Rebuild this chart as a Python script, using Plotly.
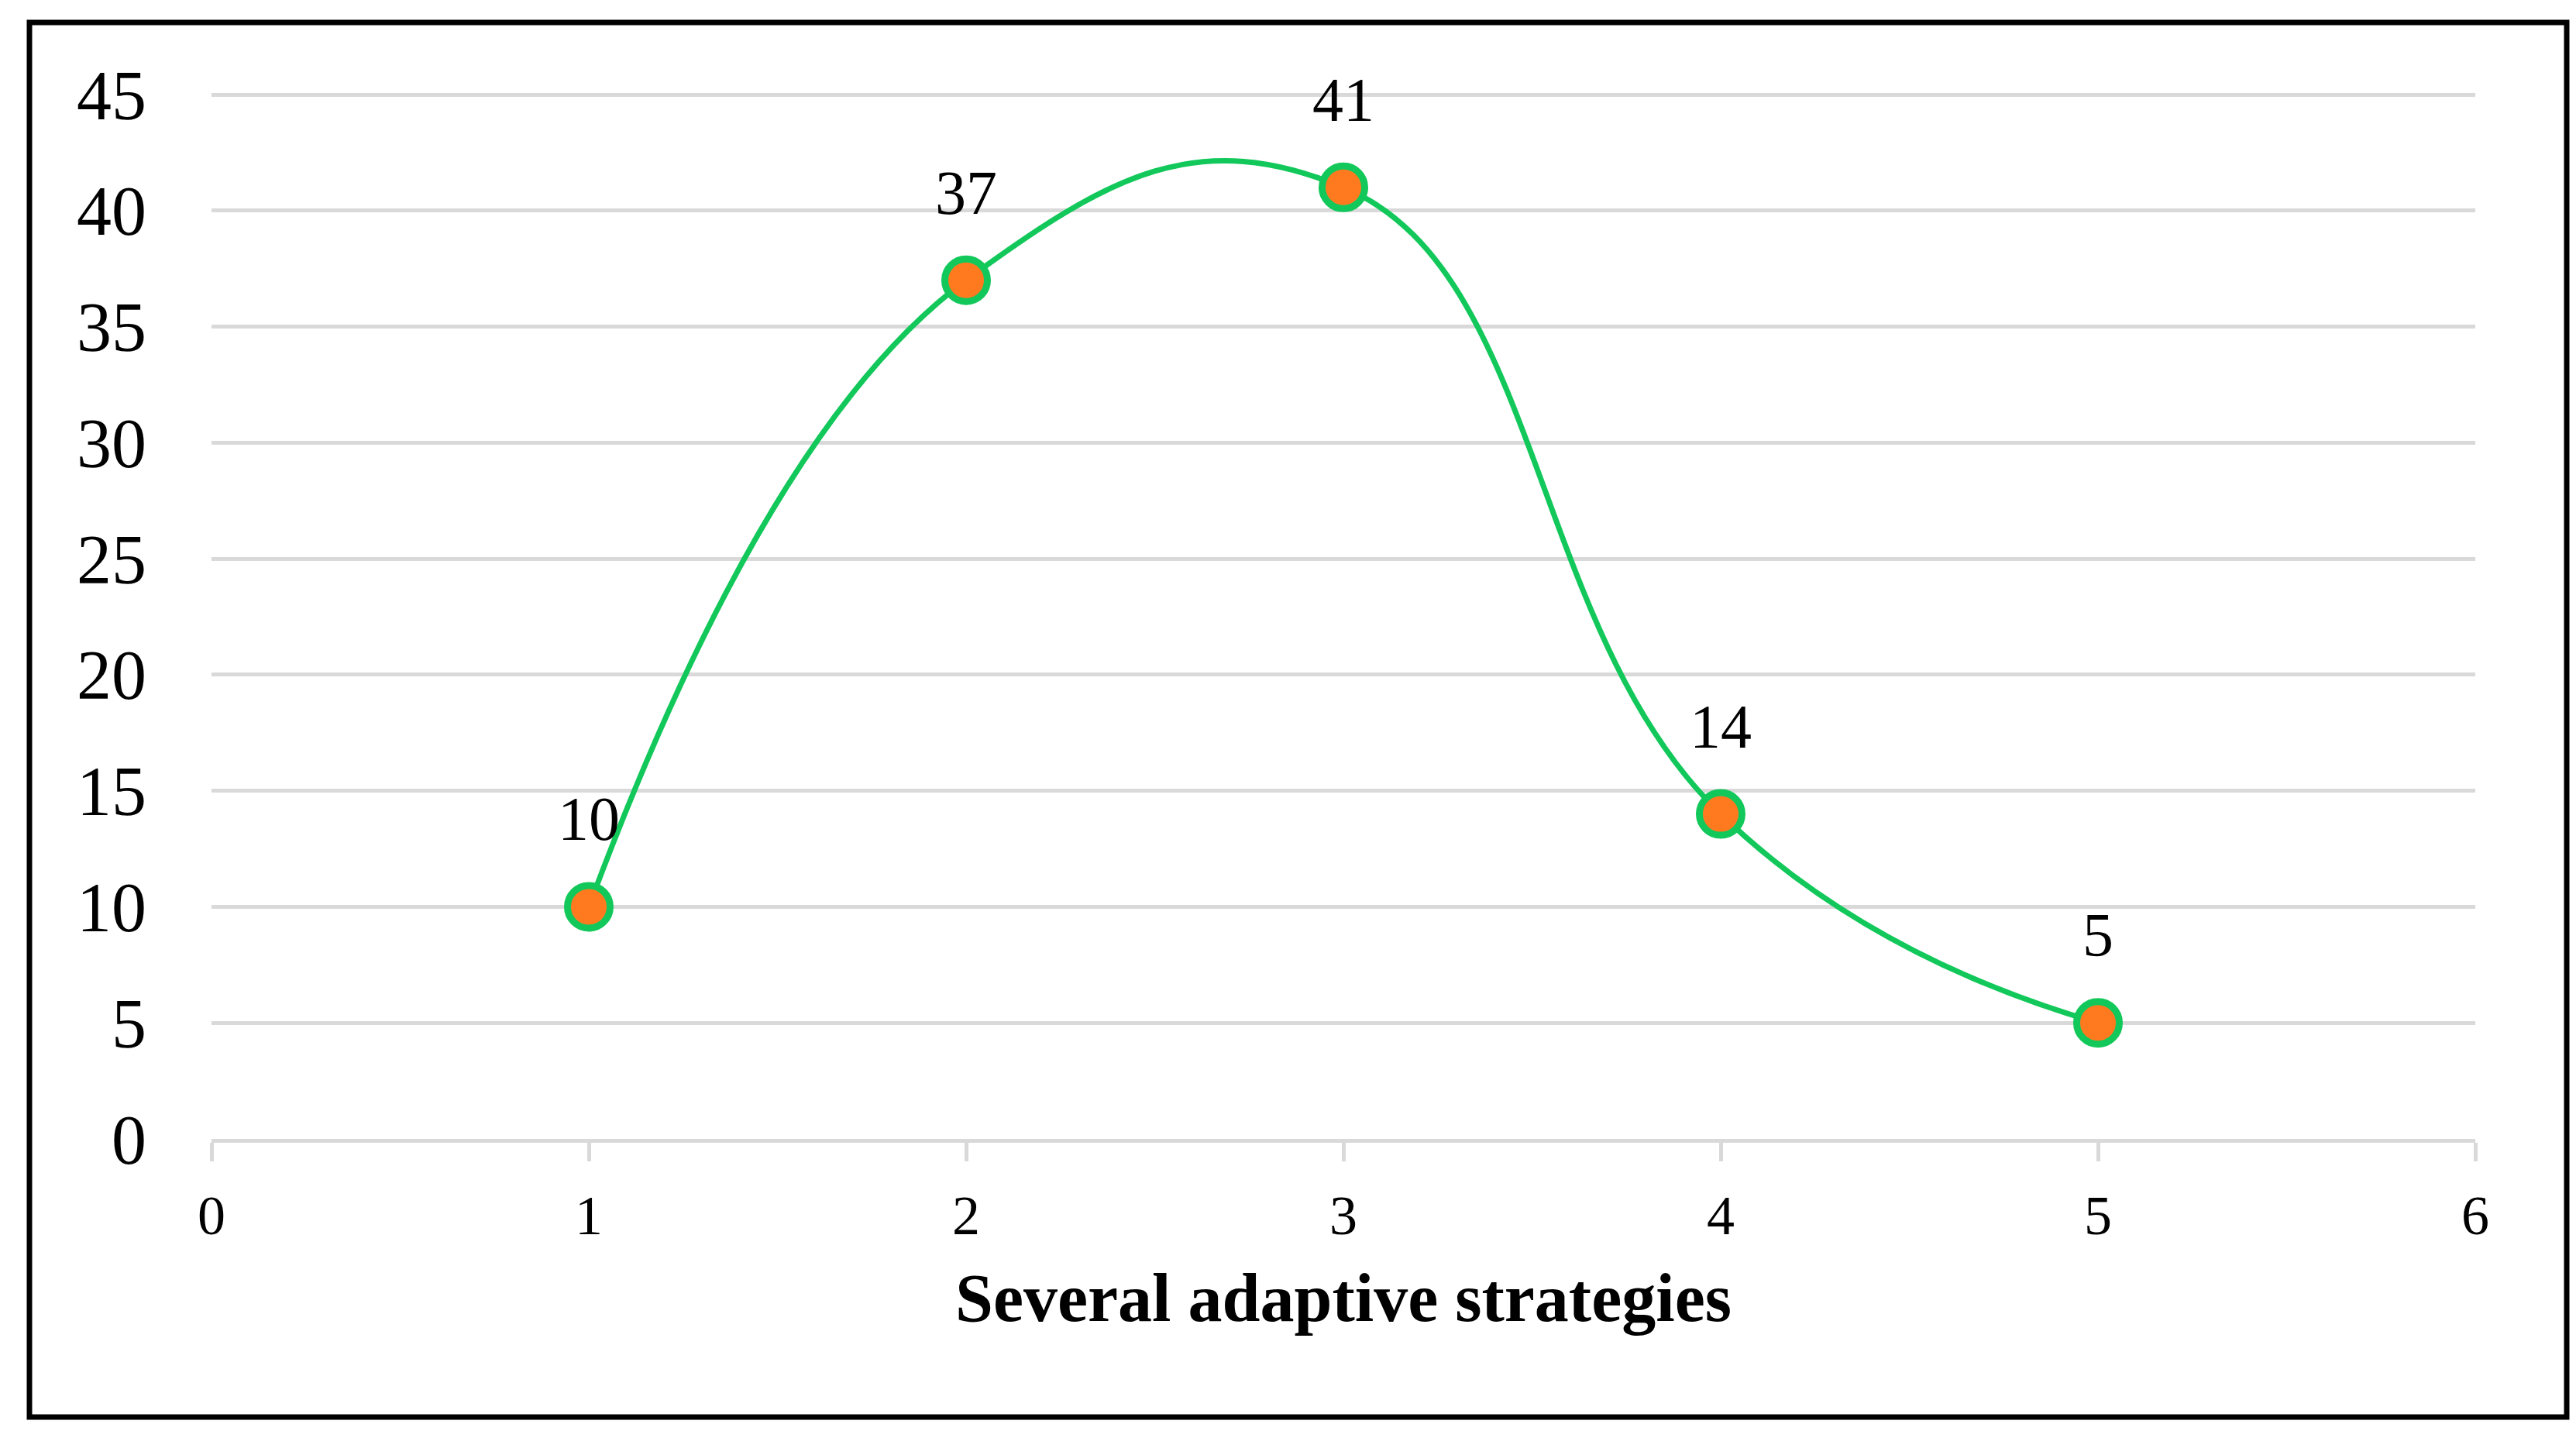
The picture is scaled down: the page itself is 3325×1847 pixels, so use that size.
import plotly.graph_objects as go

# Data
x_vals = [1, 2, 3, 4, 5]
y_vals = [10, 37, 41, 14, 5]
x_ticks = [0, 1, 2, 3, 4, 5, 6]
y_ticks = [0, 5, 10, 15, 20, 25, 30, 35, 40, 45]
x_title = "Several adaptive strategies"

W, H = 3325, 1847
L, R, T, B = 265, 138, 111, 385

GREEN = "#12C85A"
ORANGE = "#FF7A1F"
FONT = "Liberation Serif"

fig = go.Figure()
fig.add_trace(go.Scatter(
    x=x_vals, y=y_vals, mode="lines+markers",
    line=dict(color=GREEN, width=7, shape="spline", smoothing=1.3),
    marker=dict(size=55, color=ORANGE, line=dict(color=GREEN, width=9)),
    showlegend=False, hoverinfo="skip",
))

for xv, yv in zip(x_vals, y_vals):
    fig.add_annotation(x=xv, y=yv, text=str(yv), showarrow=False,
                       yshift=113, font=dict(family=FONT, size=80, color="black"))

# outer border
pw = W - L - R
ph = H - T - B
fig.add_shape(type="rect", xref="paper", yref="paper",
              x0=(30 - L) / pw, x1=(3305 - L) / pw,
              y0=(H - B - 1821) / ph, y1=(H - B - 21) / ph,
              line=dict(color="black", width=7), fillcolor="rgba(0,0,0,0)")

fig.update_layout(
    width=W, height=H,
    margin=dict(l=L, r=R, t=T, b=B, autoexpand=False),
    paper_bgcolor="white", plot_bgcolor="white",
    font=dict(family=FONT, color="black"),
    xaxis=dict(range=[0, 6], tickvals=x_ticks, ticktext=[str(v) for v in x_ticks],
               showgrid=False, zeroline=False, showline=True, linecolor="#D9D9D9", linewidth=5,
               ticks="outside", ticklen=24, tickwidth=5, tickcolor="#D9D9D9",
               tickfont=dict(family=FONT, size=72, color="black"),
               ticklabelstandoff=8,
               title=dict(text="<b>" + x_title + "</b>", standoff=36,
                          font=dict(family=FONT, size=88, color="black"))),
    yaxis=dict(range=[0, 45.1], tickvals=y_ticks, ticktext=[str(v) for v in y_ticks],
               showgrid=True, gridcolor="#D9D9D9", gridwidth=5, zeroline=False,
               showline=False, ticks="",
               tickfont=dict(family=FONT, size=90, color="black"),
               ticklabelstandoff=83),
)

fig.write_html("out.html")
